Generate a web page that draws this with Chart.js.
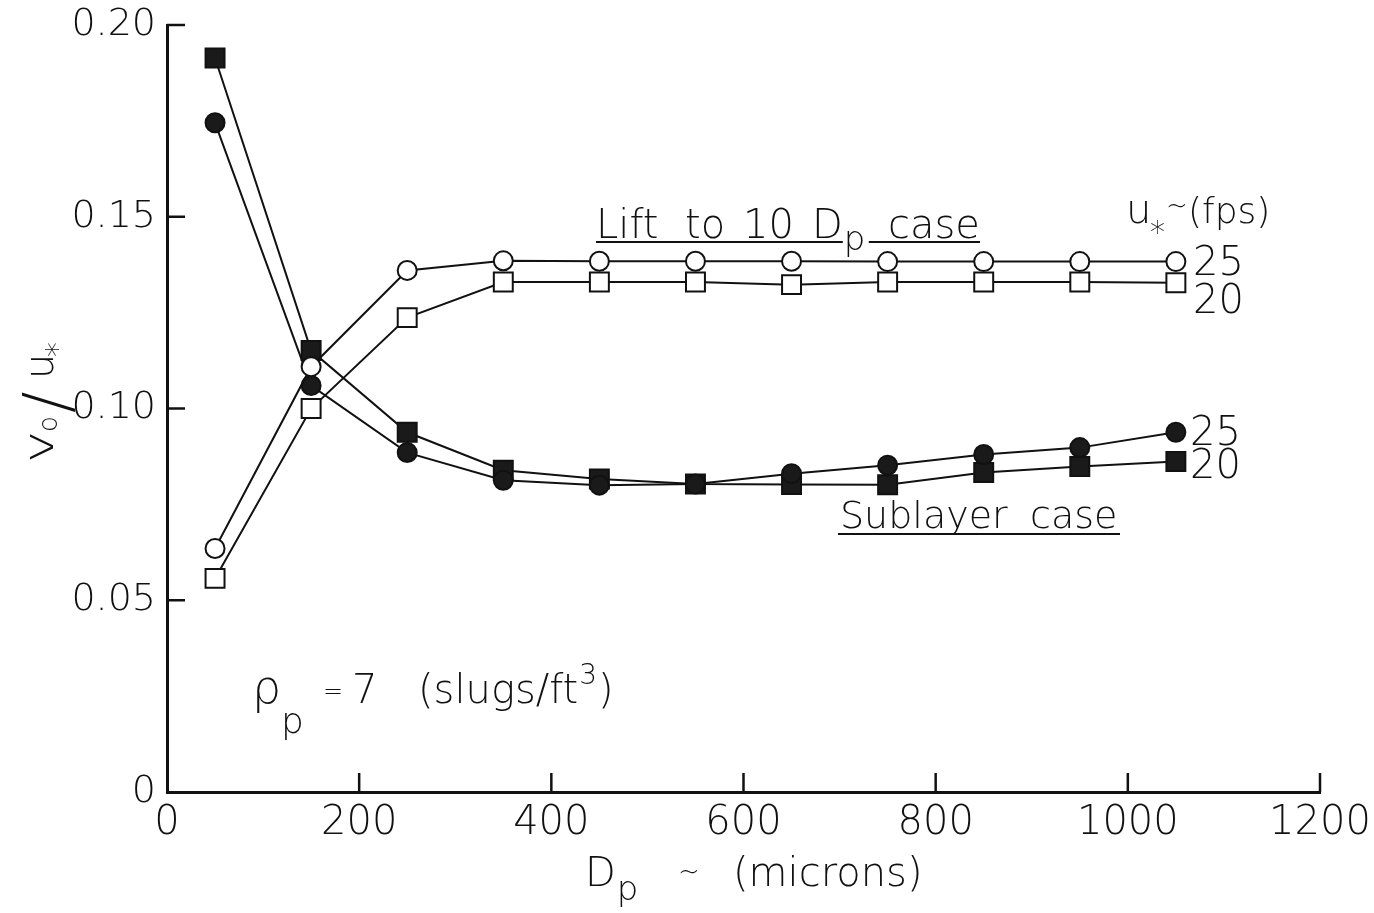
<!DOCTYPE html>
<html>
<head>
<meta charset="utf-8">
<script src="https://cdn.jsdelivr.net/npm/chart.js@4/dist/chart.umd.min.js"></script>
<style>
  html, body { margin: 0; padding: 0; background: #fff; }
  #wrap { width: 1374px; height: 913px; }
</style>
</head>
<body>
<div id="wrap"><canvas id="chart" width="1374" height="913"></canvas></div>
<script>
// particle diameter D_p (microns)
const diameters = [50, 150, 250, 350, 450, 550, 650, 750, 850, 950, 1050];

// lift to 10 D_p case (open markers)
const liftU25 = [0.0635, 0.1109, 0.1360, 0.1385, 0.1384, 0.1384, 0.1384, 0.1383, 0.1383, 0.1383, 0.1383];
const liftU20 = [0.0557, 0.1000, 0.1237, 0.1330, 0.1330, 0.1330, 0.1323, 0.1330, 0.1330, 0.1330, 0.1328];

// sublayer case (filled markers)
const subU25 = [0.1745, 0.1060, 0.0885, 0.0813, 0.0800, 0.0803, 0.0830, 0.0852, 0.0880, 0.0898, 0.0938];
const subU20 = [0.1914, 0.1151, 0.0938, 0.0839, 0.0816, 0.0803, 0.0802, 0.0801, 0.0833, 0.0849, 0.0862];

const xTicks = [0, 200, 400, 600, 800, 1000, 1200];
const yTicks = [0, 0.05, 0.10, 0.15, 0.20];

const FONT = '"DejaVu Sans", sans-serif';
const INK = '#111';

function series(values, style, filled) {
    return {
        data: diameters.map((d, i) => ({ x: d, y: values[i] })),
        borderColor: INK,
        borderWidth: 2,
        pointStyle: style,
        pointRadius: style === 'rect' ? 13.4 : 9.5,
        pointBorderWidth: 2,
        pointBorderColor: INK,
        pointBackgroundColor: filled ? '#1a1a1a' : '#fff',
        tension: 0,
        fill: false,
        clip: false
    };
}

// inward tick marks
const inwardTicks = {
    id: 'inwardTicks',
    afterDraw(chart) {
        const { ctx, scales: { x, y } } = chart;
        ctx.save();
        ctx.strokeStyle = INK;
        ctx.lineWidth = 2.5;
        x.ticks.forEach(t => {
            if (t.value === 0) return;
            const px = x.getPixelForValue(t.value);
            ctx.beginPath();
            ctx.moveTo(px, y.bottom);
            ctx.lineTo(px, y.bottom - 19);
            ctx.stroke();
        });
        y.ticks.forEach(t => {
            if (t.value === 0) return;
            const py = y.getPixelForValue(t.value);
            ctx.beginPath();
            ctx.moveTo(x.left, py);
            ctx.lineTo(x.left + 18, py);
            ctx.stroke();
        });
        ctx.restore();
    }
};

// free text: case labels, u* values, density note, axis titles
const notes = {
    id: 'notes',
    afterDraw(chart) {
        const ctx = chart.ctx;
        ctx.save();
        ctx.fillStyle = INK;
        ctx.strokeStyle = INK;
        ctx.textBaseline = 'alphabetic';
        ctx.textAlign = 'left';
        const put = (s, x, y, size) => {
            ctx.font = `200 ${size}px ${FONT}`;
            ctx.fillText(s, x, y);
            return x + ctx.measureText(s).width;
        };
        const line = (x1, y1, x2, y2, w) => {
            ctx.lineWidth = w || 2;
            ctx.beginPath();
            ctx.moveTo(x1, y1);
            ctx.lineTo(x2, y2);
            ctx.stroke();
        };

        // Lift to 10 Dp case
        put('Lift', 596, 238, 40);
        put('to', 685, 238, 40);
        put('10', 743, 238, 40);
        const dEnd = put('D', 812, 238, 40);
        put('p', dEnd + 1, 250, 34);
        put('case', 888, 238, 40);
        line(596, 242, dEnd, 242);
        line(dEnd + 26, 242, 980, 242);

        // u* ~ (fps)
        put('u', 1126, 223, 40);
        put('*', 1150, 242, 30);
        put('~', 1166, 214, 26);
        put('(fps)', 1188, 223, 36);

        put('25', 1193, 275, 40);
        put('20', 1193, 313, 40);
        put('25', 1190, 445, 40);
        put('20', 1190, 478, 40);

        // Sublayer case
        put('Sublayer', 840, 528, 38);
        put('case', 1030, 528, 38);
        line(838, 534, 1120, 534);

        // rho_p = 7 (slugs/ft3)
        put('ρ', 252, 703, 46);
        put('p', 281, 733, 36);
        put('=', 323, 699, 24);
        put('7', 352, 703, 40);
        let e = put('(slugs/ft', 418, 703, 40);
        e = put('3', e + 1, 684, 28);
        put(')', e + 1, 703, 40);

        // x title: Dp ~ (microns)
        const xd = put('D', 585, 886, 40);
        put('p', xd + 1, 900, 34);
        put('~', 678, 880, 26);
        put('(microns)', 733, 886, 40);

        // y title: vo / u*  (rotated)
        ctx.translate(53, 463);
        ctx.rotate(-Math.PI / 2);
        ctx.save();
        ctx.scale(1.3, 1);
        put('v', 0, 0, 42);
        ctx.restore();
        put('o', 31, 4, 26);
        put('/', 50, 16, 64);
        put('u', 84, 0, 40);
        put('*', 106, 14, 30);
        ctx.restore();
    }
};

new Chart(document.getElementById('chart'), {
    type: 'line',
    data: {
        datasets: [
            series(liftU25, 'circle', false),
            series(liftU20, 'rect', false),
            series(subU25, 'circle', true),
            series(subU20, 'rect', true)
        ]
    },
    options: {
        responsive: false,
        animation: false,
        layout: { padding: { top: 25, right: 54, left: 0, bottom: 0 } },
        plugins: {
            legend: { display: false },
            tooltip: { enabled: false }
        },
        scales: {
            x: {
                type: 'linear',
                min: 0,
                max: 1200,
                afterBuildTicks: s => { s.ticks = xTicks.map(v => ({ value: v })); },
                afterFit: s => {
                    s.height = 121;
                    s.paddingLeft = 0;
                    s.paddingRight = 0;
                },
                grid: { display: false, drawTicks: false },
                border: { display: true, color: INK, width: 3 },
                ticks: {
                    color: INK,
                    padding: 8,
                    maxRotation: 0,
                    font: { family: FONT, size: 40, weight: 200 },
                    callback: v => String(v)
                }
            },
            y: {
                type: 'linear',
                min: 0,
                max: 0.2,
                afterBuildTicks: s => { s.ticks = yTicks.map(v => ({ value: v })); },
                afterFit: s => {
                    s.width = 167;
                    s.paddingTop = 0;
                    s.paddingBottom = 0;
                },
                grid: { display: false, drawTicks: false },
                border: { display: true, color: INK, width: 3 },
                ticks: {
                    color: INK,
                    padding: 11,
                    font: { family: FONT, size: 38, weight: 200 },
                    callback: v => v === 0 ? '0' : v.toFixed(2)
                }
            }
        }
    },
    plugins: [inwardTicks, notes]
});
</script>
</body>
</html>
